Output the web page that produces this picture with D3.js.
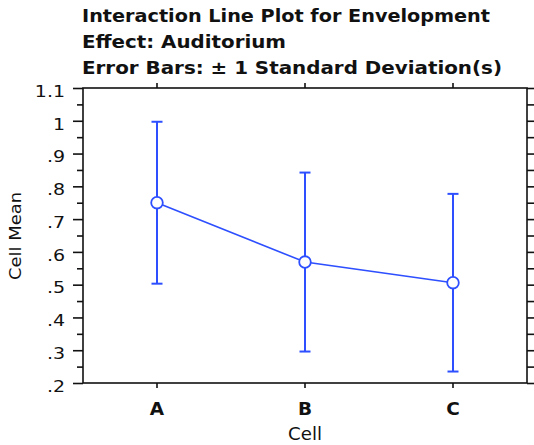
<!DOCTYPE html>
<html><head><meta charset="utf-8">
<script src="https://cdn.jsdelivr.net/npm/d3@7"></script>
<style>body{margin:0;background:#fff}svg{display:block}</style>
</head><body>
<script>
const categories = ["A","B","C"];
const means = [0.75, 0.569, 0.506];
const sds = [0.247, 0.273, 0.271];
const yTicks = [1.1,1.0,0.9,0.8,0.7,0.6,0.5,0.4,0.3,0.2];
const yTickLabels = ["1.1","1",".9",".8",".7",".6",".5",".4",".3",".2"];
const titleLines = ["Interaction Line Plot for Envelopment","Effect: Auditorium","Error Bars: \u00b1 1 Standard Deviation(s)"];

const W=534,H=445;
const L=83,R=527,T=88,B=383;
const blue="#2d4fff", ink="#111";
const svg=d3.select("body").append("svg").attr("width",W).attr("height",H);

const x=d3.scaleBand().domain(categories).range([L,R]);
const xc=c=>x(c)+x.bandwidth()/2;
const y=d3.scaleLinear().domain([0.2,1.1]).range([B,T]);

// titles
const tl=[408,204,420];
titleLines.forEach((t,i)=>{
  svg.append("text").attr("x",82).attr("y",22+i*26)
    .style("font-family","DejaVu Sans").style("font-weight","bold").style("font-size","17px")
    .attr("textLength",tl[i]).attr("lengthAdjust","spacingAndGlyphs")
    .attr("fill",ink).text(t);
});

// frame
svg.append("rect").attr("x",L).attr("y",T).attr("width",R-L).attr("height",B-T)
  .attr("fill","none").attr("stroke",ink).attr("stroke-width",1.6);

function widen(sel,f){
  sel.each(function(){const w=this.getComputedTextLength();
    d3.select(this).attr("textLength",w*f).attr("lengthAdjust","spacingAndGlyphs");});
}

// y axes left & right
const minor=d3.range(0.25,1.1,0.1);
const gl=svg.append("g").attr("transform",`translate(${L},0)`)
  .call(d3.axisLeft(y).tickValues(yTicks).tickSize(10).tickPadding(8).tickFormat((d,i)=>yTickLabels[i]));
gl.select(".domain").remove();
gl.selectAll("line").attr("stroke",ink).attr("stroke-width",1.6);
gl.selectAll("text").style("font-family","DejaVu Sans").style("font-size","16.5px").attr("fill",ink).attr("y",3);
widen(gl.selectAll("text"),1.15);
const glm=svg.append("g").attr("transform",`translate(${L},0)`)
  .call(d3.axisLeft(y).tickValues(minor).tickSize(6).tickFormat(""));
glm.select(".domain").remove();
glm.selectAll("line").attr("stroke",ink).attr("stroke-width",1.6);

const gr=svg.append("g").attr("transform",`translate(${R},0)`)
  .call(d3.axisRight(y).tickValues(yTicks.concat(minor)).tickSize(7).tickFormat(""));
gr.select(".domain").remove();
gr.selectAll("line").attr("stroke",ink).attr("stroke-width",1.6);

// x axes
const gb=svg.append("g").attr("transform",`translate(0,${B})`)
  .call(d3.axisBottom(x).tickSize(5).tickPadding(0).tickFormat(d=>d));
gb.select(".domain").remove();
gb.selectAll("line").attr("stroke",ink).attr("stroke-width",1.6);
gb.selectAll("text").attr("dy",null).attr("y",32)
  .style("font-family","DejaVu Sans").style("font-weight","bold").style("font-size","18.5px").attr("fill",ink);
const gt=svg.append("g").attr("transform",`translate(0,${T})`)
  .call(d3.axisTop(x).tickSize(5).tickFormat(""));
gt.select(".domain").remove();
gt.selectAll("line").attr("stroke",ink).attr("stroke-width",1.6);

// axis titles
svg.append("text").attr("x",xc("B")).attr("y",440).attr("text-anchor","middle")
  .style("font-family","DejaVu Sans").style("font-size","17px").attr("fill",ink)
  .attr("textLength",34).attr("lengthAdjust","spacingAndGlyphs").text("Cell");
svg.append("text").attr("transform",`translate(21,236) rotate(-90)`).attr("text-anchor","middle")
  .style("font-family","DejaVu Sans").style("font-size","15.5px").attr("fill",ink)
  .attr("textLength",88).attr("lengthAdjust","spacingAndGlyphs").text("Cell Mean");

// data
const data=categories.map((c,i)=>({c,m:means[i],s:sds[i]}));
const g=svg.append("g");
g.selectAll("line.eb").data(data).join("line").attr("class","eb")
  .attr("x1",d=>xc(d.c)).attr("x2",d=>xc(d.c))
  .attr("y1",d=>y(d.m-d.s)).attr("y2",d=>y(d.m+d.s))
  .attr("stroke",blue).attr("stroke-width",2);
[-1,1].forEach(k=>{
  g.selectAll("line.cap"+k).data(data).join("line")
    .attr("x1",d=>xc(d.c)-5.5).attr("x2",d=>xc(d.c)+5.5)
    .attr("y1",d=>y(d.m+k*d.s)).attr("y2",d=>y(d.m+k*d.s))
    .attr("stroke",blue).attr("stroke-width",2);
});
g.append("path").datum(data)
  .attr("d",d3.line().x(d=>xc(d.c)).y(d=>y(d.m)))
  .attr("fill","none").attr("stroke",blue).attr("stroke-width",1.6);
g.selectAll("circle").data(data).join("circle")
  .attr("cx",d=>xc(d.c)).attr("cy",d=>y(d.m)).attr("r",5.8)
  .attr("fill","#fff").attr("stroke",blue).attr("stroke-width",1.8);
</script>
</body></html>
